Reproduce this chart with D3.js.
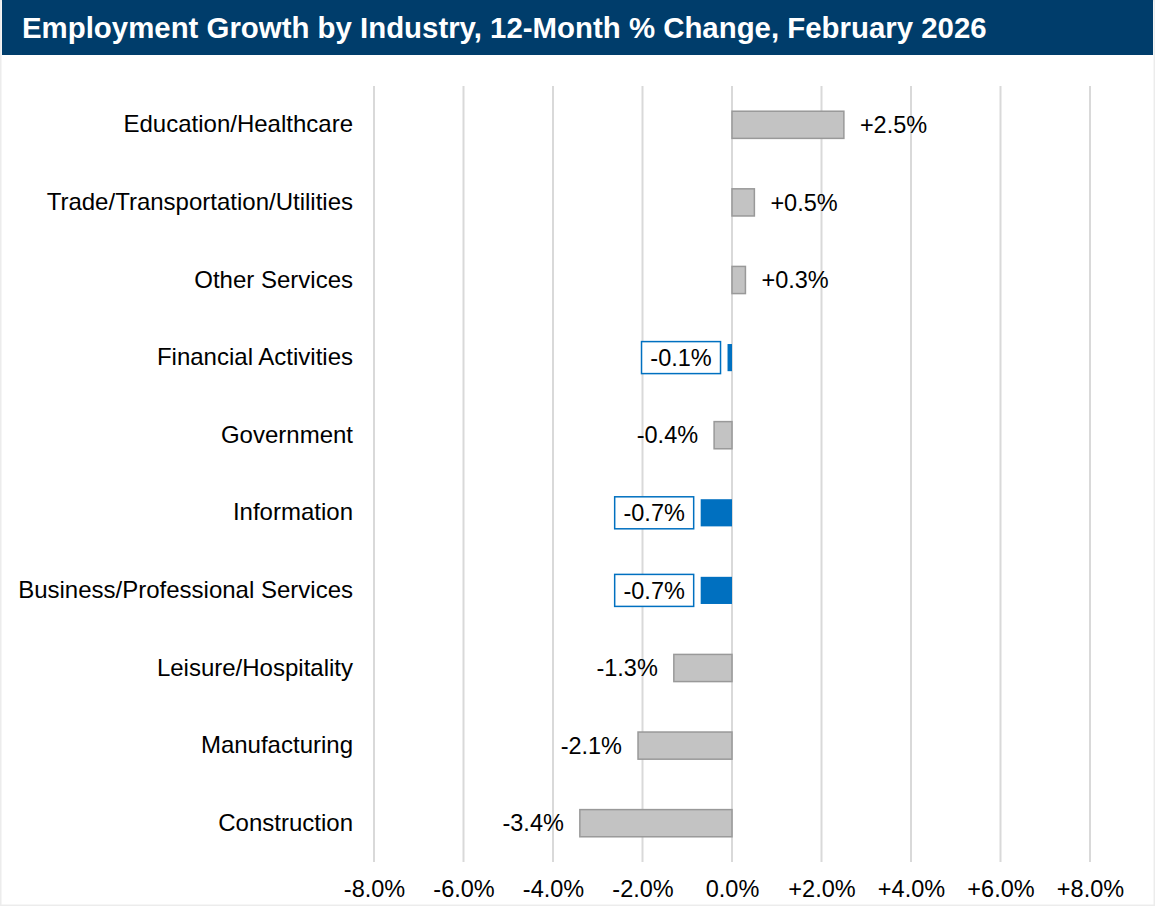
<!DOCTYPE html>
<html lang="en">
<head>
  <meta charset="UTF-8">
  <title>Employment Growth by Industry</title>
  <script src="https://cdnjs.cloudflare.com/ajax/libs/d3/7.8.5/d3.min.js"></script>
  <style>
    html, body {
      margin: 0;
      padding: 0;
      background: #fff;
      font-family: "Liberation Sans", Arial, sans-serif;
    }
    #chart {
      width: 1155px;
      height: 906px;
    }
    .grid line {
      stroke: #d9d9d9;
      stroke-width: 2;
    }
  </style>
</head>
<body>
  <div id="chart"></div>

  <script>
    const categories = [
      "Education/Healthcare",
      "Trade/Transportation/Utilities",
      "Other Services",
      "Financial Activities",
      "Government",
      "Information",
      "Business/Professional Services",
      "Leisure/Hospitality",
      "Manufacturing",
      "Construction"
    ];
    const values = [2.5, 0.5, 0.3, -0.1, -0.4, -0.7, -0.7, -1.3, -2.1, -3.4];
    const highlighted = ["Financial Activities", "Information", "Business/Professional Services"];
    const tickValues = [-8, -6, -4, -2, 0, 2, 4, 6, 8];

    const width = 1155, height = 906;
    const gridTop = 86, gridBottom = 862;
    const fontFam = "\"Liberation Sans\", Arial, sans-serif";

    const svg = d3.select("#chart")
      .append("svg")
        .attr("width", width)
        .attr("height", height);

    // page edges
    svg.append("rect")
      .attr("x", 0.75).attr("y", 0.75)
      .attr("width", width - 1.5).attr("height", height - 1.5)
      .attr("fill", "none")
      .attr("stroke", "#ececec")
      .attr("stroke-width", 1.5);

    // title bar
    svg.append("rect")
      .attr("x", 2).attr("y", 0)
      .attr("width", width - 4).attr("height", 55)
      .attr("fill", "#003d6b");

    svg.append("text")
      .attr("x", 22).attr("y", 38)
      .attr("fill", "#fff")
      .attr("font-size", 29.4)
      .attr("font-weight", "bold")
      .text("Employment Growth by Industry, 12-Month % Change, February 2026");

    const x = d3.scaleLinear().domain([-8, 8]).range([374, 1090]);
    const y = d3.scaleBand().domain(categories).range([gridTop, gridBottom]).paddingInner(0.65).paddingOuter(0.325);

    // vertical gridlines
    svg.append("g")
      .attr("class", "grid")
      .selectAll("line")
      .data(tickValues)
      .join("line")
        .attr("x1", d => x(d)).attr("x2", d => x(d))
        .attr("y1", gridTop).attr("y2", gridBottom);

    // x tick labels
    const fmt = d => (d > 0 ? "+" : "") + d.toFixed(1) + "%";
    svg.append("g")
      .attr("transform", `translate(0,${gridBottom})`)
      .call(d3.axisBottom(x).tickValues(tickValues).tickFormat(fmt).tickSize(0).tickPadding(18))
      .call(g => g.select(".domain").remove())
      .call(g => g.selectAll("text")
        .attr("font-family", fontFam)
        .attr("font-size", 23.5)
        .attr("fill", "#000"));

    // category labels
    svg.append("g")
      .attr("transform", "translate(353,0)")
      .call(d3.axisLeft(y).tickSize(0).tickPadding(0))
      .call(g => g.select(".domain").remove())
      .call(g => g.selectAll("text")
        .attr("font-family", fontFam)
        .attr("font-size", 24)
        .attr("fill", "#000"));

    const rows = categories.map((c, i) => ({ cat: c, val: values[i], hi: highlighted.includes(c) }));

    // bars
    svg.append("g")
      .selectAll("rect")
      .data(rows)
      .join("rect")
        .attr("x", d => x(Math.min(0, d.val)))
        .attr("y", d => y(d.cat))
        .attr("width", d => Math.abs(x(d.val) - x(0)))
        .attr("height", y.bandwidth())
        .attr("fill", d => d.hi ? "#0070c0" : "#c3c3c3")
        .attr("stroke", d => d.hi ? "none" : "#999999")
        .attr("stroke-width", 1.5);

    // value labels
    const labels = svg.append("g");
    rows.forEach(d => {
      const cy = y(d.cat) + y.bandwidth() / 2;
      const txt = fmt(d.val);
      if (d.hi) {
        const right = x(d.val) - 7;
        labels.append("rect")
          .attr("x", right - 79).attr("y", cy - 16)
          .attr("width", 79).attr("height", 32)
          .attr("fill", "#fff")
          .attr("stroke", "#0070c0")
          .attr("stroke-width", 1.5);
        labels.append("text")
          .attr("x", right - 39.5).attr("y", cy)
          .attr("dy", "0.35em")
          .attr("text-anchor", "middle")
          .attr("font-size", 23.5)
          .text(txt);
      } else {
        const pos = d.val >= 0;
        labels.append("text")
          .attr("x", pos ? x(d.val) + 16 : x(d.val) - 16)
          .attr("y", cy)
          .attr("dy", "0.35em")
          .attr("text-anchor", pos ? "start" : "end")
          .attr("font-size", 23.5)
          .text(txt);
      }
    });
  </script>
</body>
</html>
